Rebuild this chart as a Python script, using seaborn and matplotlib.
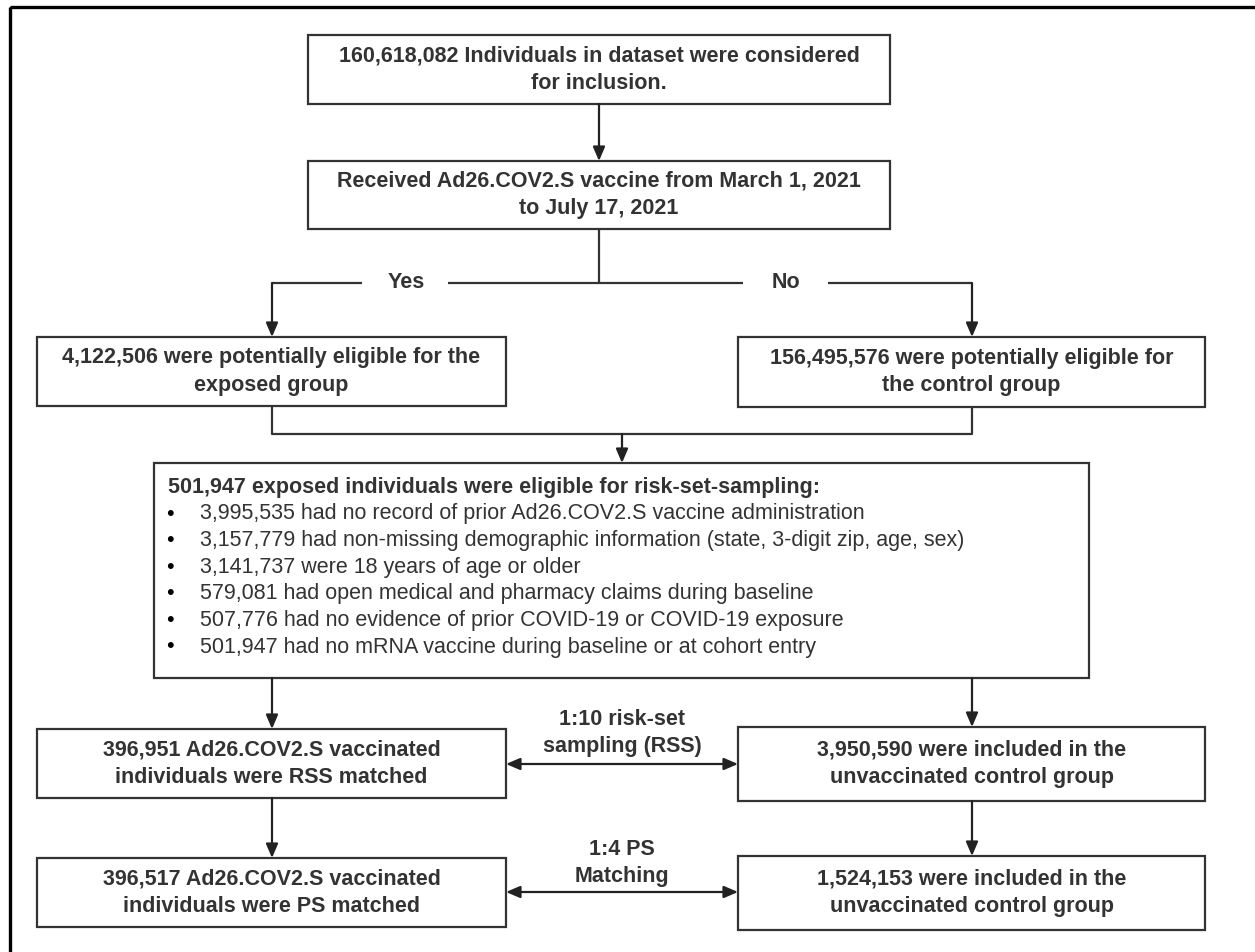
import matplotlib
matplotlib.use("Agg")
import matplotlib.pyplot as plt
import seaborn as sns

# box texts
top_text = "160,618,082 Individuals in dataset were considered\nfor inclusion."
split_text = "Received Ad26.COV2.S vaccine from March 1, 2021\nto July 17, 2021"
branch_labels = ["Yes", "No"]
exposed_text = "4,122,506 were potentially eligible for the\nexposed group"
control_text = "156,495,576 were potentially eligible for\nthe control group"
eligible_head = "501,947 exposed individuals were eligible for risk-set-sampling:"
eligible_items = [
    "3,995,535 had no record of prior Ad26.COV2.S vaccine administration",
    "3,157,779 had non-missing demographic information (state, 3-digit zip, age, sex)",
    "3,141,737 were 18 years of age or older",
    "579,081 had open medical and pharmacy claims during baseline",
    "507,776 had no evidence of prior COVID-19 or COVID-19 exposure",
    "501,947 had no mRNA vaccine during baseline or at cohort entry",
]
rss_left = "396,951 Ad26.COV2.S vaccinated\nindividuals were RSS matched"
rss_right = "3,950,590 were included in the\nunvaccinated control group"
rss_label = "1:10 risk-set\nsampling (RSS)"
ps_left = "396,517 Ad26.COV2.S vaccinated\nindividuals were PS matched"
ps_right = "1,524,153 were included in the\nunvaccinated control group"
ps_label = "1:4 PS\nMatching"

sns.set_theme(style="white")
plt.rcParams['font.family'] = ['Liberation Sans', 'DejaVu Sans']

W, H = 1255, 952
fig = plt.figure(figsize=(W / 100, H / 100), dpi=100)
ax = fig.add_axes([0, 0, 1, 1])
ax.set_xlim(0, W)
ax.set_ylim(H, 0)
ax.axis("off")

txt_col = "#333333"
edge = "#333333"
fs = 15.5
lsp = 1.42

def box(x0, y0, x1, y1, text=None, bold=True):
    ax.add_patch(plt.Rectangle((x0, y0), x1 - x0, y1 - y0, fill=False,
                               ec=edge, lw=1.6))
    if text:
        ax.text((x0 + x1) / 2, (y0 + y1) / 2, text, ha="center", va="center",
                fontsize=fs, color=txt_col, linespacing=lsp,
                fontweight="bold" if bold else "normal")

def line(xs, ys):
    ax.plot(xs, ys, color=edge, lw=1.6, solid_capstyle="butt")

def arrow(x0, y0, x1, y1, both=False):
    style = "<|-|>" if both else "-|>"
    ax.annotate("", xy=(x1, y1), xytext=(x0, y0),
                arrowprops=dict(arrowstyle=style + ",head_length=0.7,head_width=0.3",
                                color="#222222", lw=1.6, shrinkA=0, shrinkB=0))

# outer frame (only top and left edges visible)
ax.add_patch(plt.Rectangle((10, 7), W + 20, H + 20, fill=False, ec="black", lw=2.4))

box(308, 35, 890, 104, top_text)
arrow(599, 104, 599, 161)
box(308, 161, 890, 229, split_text)

# yes / no branch
line([599, 599], [229, 283])
line([362, 272], [283, 283])
line([448, 743], [283, 283])
line([828, 972], [283, 283])
ax.text(406, 283, branch_labels[0], ha="center", va="center", fontsize=fs,
        fontweight="bold", color=txt_col)
ax.text(786, 283, branch_labels[1], ha="center", va="center", fontsize=fs,
        fontweight="bold", color=txt_col)
arrow(272, 283, 272, 337)
arrow(972, 283, 972, 337)
box(37, 337, 506, 406, exposed_text)
box(738, 337, 1205, 407, control_text)

# merge
line([272, 272, 972, 972], [406, 434, 434, 407])
arrow(622, 434, 622, 463)
box(154, 463, 1089, 678)
ax.text(168, 488, eligible_head, ha="left", va="center", fontsize=fs,
        fontweight="bold", color=txt_col)
for i, item in enumerate(eligible_items):
    yy = 514 + i * 26.6
    ax.text(170, yy, "\u2022", ha="center", va="center", fontsize=fs, color="black")
    ax.text(200, yy, item, ha="left", va="center", fontsize=fs, color=txt_col)

# RSS row
arrow(272, 678, 272, 729)
arrow(972, 678, 972, 727)
box(37, 729, 506, 798, rss_left)
box(738, 727, 1205, 801, rss_right)
arrow(622, 764, 506, 764)
arrow(622, 764, 738, 764)
ax.text(622, 733, rss_label, ha="center", va="center", fontsize=fs,
        fontweight="bold", color=txt_col, linespacing=lsp)

# PS row
arrow(272, 798, 272, 858)
arrow(972, 801, 972, 856)
box(37, 858, 506, 927, ps_left)
box(738, 856, 1205, 930, ps_right)
arrow(622, 892, 506, 892)
arrow(622, 892, 738, 892)
ax.text(622, 863, ps_label, ha="center", va="center", fontsize=fs,
        fontweight="bold", color=txt_col, linespacing=lsp)

fig.savefig("out.png", dpi=100)
